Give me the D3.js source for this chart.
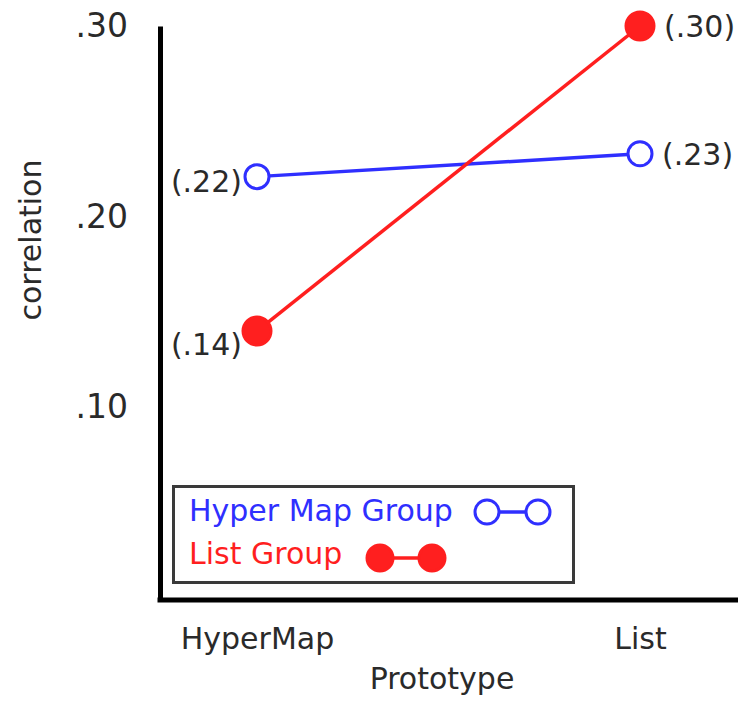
<!DOCTYPE html>
<html>
  <head>
    <title>Correlation by prototype</title>
    <style>
      body,
      html {
        margin: 0;
        padding: 0;
        background: #fff;
      }
      svg text {
        font-family: 'DejaVu Sans', Verdana, sans-serif;
        fill: #2a2a2a;
      }
    </style>
  </head>
  <body>
    <svg id="svg" width="751" height="702"></svg>
    <script src="https://cdn.jsdelivr.net/npm/d3@7"></script>
    <script>
      // data
      const prototypes = ['HyperMap', 'List'];
      const seriesNames = ['Hyper Map Group', 'List Group'];
      const hyperMapGroup = [0.221, 0.233];
      const listGroup = [0.14, 0.3];
      const yTicks = [0.1, 0.2, 0.3];

      const colors = ['#2f2fff', '#ff1f1f'];
      // small vertical nudges for the value labels (left point, right point)
      const labelNudge = [
        [5, 0],
        [13, 0],
      ];

      const svg = d3.select('#svg');
      const fmt = (d) => d3.format('.2f')(d).replace(/^0/, '');

      const x = d3.scalePoint().domain(prototypes).range([257, 640]);
      const y = d3.scaleLinear().domain([0, 0.3]).range([598, 26]);

      // y axis
      const yAxis = svg
        .append('g')
        .attr('transform', 'translate(160, 0)')
        .call(
          d3
            .axisLeft(y)
            .tickValues(yTicks)
            .tickFormat(fmt)
            .tickSize(0)
            .tickSizeOuter(0)
            .tickPadding(32)
        );
      yAxis.select('.domain').attr('stroke', '#000').attr('stroke-width', 5);
      yAxis
        .selectAll('text')
        .attr('font-size', 33)
        .attr('fill', '#2a2a2a')
        .attr('font-family', "'DejaVu Sans', sans-serif");

      // x axis
      const xAxis = svg
        .append('g')
        .attr('transform', 'translate(0, 600)')
        .call(d3.axisBottom(x).tickSize(0).tickPadding(28));
      xAxis
        .select('.domain')
        .attr('d', 'M157.5,0H738')
        .attr('stroke', '#000')
        .attr('stroke-width', 5);
      xAxis
        .selectAll('text')
        .attr('font-size', 30)
        .attr('fill', '#2a2a2a')
        .attr('font-family', "'DejaVu Sans', sans-serif");

      // axis titles
      svg
        .append('text')
        .attr('x', 442)
        .attr('y', 689)
        .attr('text-anchor', 'middle')
        .attr('font-size', 30)
        .text('Prototype');
      svg
        .append('text')
        .attr('transform', 'translate(41, 240) rotate(-90)')
        .attr('text-anchor', 'middle')
        .attr('font-size', 30)
        .text('correlation');

      // lines and points
      const series = [hyperMapGroup, listGroup];
      const line = d3
        .line()
        .x((d, i) => x(prototypes[i]))
        .y((d) => y(d));

      series.forEach((values, s) => {
        const g = svg.append('g');
        const filled = s === 1;
        const r = filled ? 14 : 12;
        g.append('path')
          .attr('d', line(values))
          .attr('fill', 'none')
          .attr('stroke', colors[s])
          .attr('stroke-width', 3.5);
        g.selectAll('circle')
          .data(values)
          .join('circle')
          .attr('cx', (d, i) => x(prototypes[i]))
          .attr('cy', (d) => y(d))
          .attr('r', r)
          .attr('fill', filled ? colors[s] : '#fff')
          .attr('stroke', colors[s])
          .attr('stroke-width', 3);
        g.selectAll('text')
          .data(values)
          .join('text')
          .attr('x', (d, i) =>
            i === 0 ? x(prototypes[i]) - 15 : x(prototypes[i]) + r + 10
          )
          .attr('y', (d, i) => y(d) + labelNudge[s][i])
          .attr('dy', '0.36em')
          .attr('text-anchor', (d, i) => (i === 0 ? 'end' : 'start'))
          .attr('font-size', 30)
          .text((d) => `(${fmt(d)})`);
      });

      // legend
      const legend = svg.append('g');
      legend
        .append('rect')
        .attr('x', 173.5)
        .attr('y', 486.5)
        .attr('width', 400)
        .attr('height', 96)
        .attr('fill', '#fff')
        .attr('stroke', '#3a3a3a')
        .attr('stroke-width', 3);

      const legendRows = [
        { baseline: 521, cy: 512, x1: 487, x2: 538, r: 12 },
        { baseline: 564, cy: 558, x1: 380, x2: 432, r: 13 },
      ];
      seriesNames.forEach((name, s) => {
        const row = legendRows[s];
        const filled = s === 1;
        legend
          .append('text')
          .attr('x', 189)
          .attr('y', row.baseline)
          .attr('font-size', 30)
          .style('fill', colors[s])
          .text(name);
        legend
          .append('line')
          .attr('x1', row.x1)
          .attr('x2', row.x2)
          .attr('y1', row.cy)
          .attr('y2', row.cy)
          .attr('stroke', colors[s])
          .attr('stroke-width', 3.5);
        legend
          .selectAll(null)
          .data([row.x1, row.x2])
          .join('circle')
          .attr('cx', (d) => d)
          .attr('cy', row.cy)
          .attr('r', row.r)
          .attr('fill', filled ? colors[s] : '#fff')
          .attr('stroke', colors[s])
          .attr('stroke-width', 3);
      });
    </script>
  </body>
</html>
